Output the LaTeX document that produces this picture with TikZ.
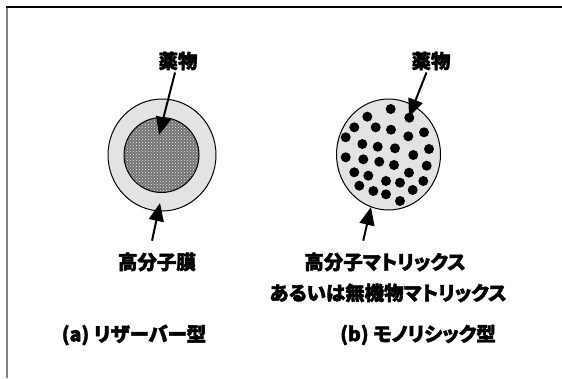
\documentclass[tikz,border=0pt]{standalone}
\usepackage{fontspec}
\setmainfont{Noto Sans CJK JP}[RawFeature=+palt,BoldFeatures={FakeBold=2}]
\usetikzlibrary{arrows.meta,patterns}

\begin{document}
\begin{tikzpicture}[x=1pt,y=-1pt,
    lbl/.style={font=\fontsize{19.5}{22}\selectfont\bfseries,inner sep=2pt},
    arr/.style={line width=2pt,-{Triangle[length=18pt,width=15pt]}},
    dot/.style={fill=black,draw=none}]
   \useasboundingbox (0,0) rectangle (562,378);
   % frame
   \draw[gray,line width=2pt] (7,6) -- (7,378);
   \draw[black,line width=1.5pt] (6,7) -- (562,7);

   % (a) reservoir
   \filldraw[fill=gray!22,draw=black,line width=1pt] (162,155) ellipse [x radius=54,y radius=56];
   \fill[black!55] (161.5,155) circle (37.5);
   \fill[pattern=crosshatch dots,pattern color=gray!15] (161.5,155) circle (37.5);
   \draw[line width=1pt] (161.5,155) circle (37.5);

   % (b) monolithic
   \filldraw[fill=gray!22,draw=black,line width=1pt] (388.5,154.5) ellipse [x radius=52,y radius=55.5];
   \foreach \x/\y in {390.7/109,409.3/117.7,367.3/116.7,354.3/127.3,375.7/127.3,
       391/129.7,408.3/136.3,424/132.3,345.7/137.3,362.3/144,377.7/146.7,
       395/148.3,429/149,413.3/155,345.7/157.3,363.3/159.3,379.3/161.7,
       394/165,426.7/165.7,409/172.7,354.3/172.3,368.3/175.7,386/181,
       400/182.7,423.3/181,359.3/185.7,373.3/191,412.7/190,386/194.3,400/201}
      \fill[dot] (\x,\y) circle (5);

   % labels
   \node[lbl] (drugA) at (178,61) {薬物};
   \node[lbl] (drugB) at (431,61) {薬物};
   \node[lbl] (memA) at (157,262) {高分子膜};
   \node[lbl] (matB) at (385,262) {高分子マトリックス};
   \node[lbl] (matB2) at (388,293) {あるいは無機物マトリックス};
   \node[lbl] (typeA) at (134,335) {(a) リザーバー型};
   \node[lbl] (typeB) at (418,335) {(b) モノリシック型};

   \coordinate (tipA) at (159,135);
   \coordinate (tipB) at (409,117);
   \coordinate (tipMemA) at (160,203);
   \coordinate (tipMatB) at (371,207);

   \draw[arr] (drugA) -- (tipA);
   \draw[arr] (drugB) -- (tipB);
   \draw[arr,shorten <=10pt] ([xshift=-7pt]memA.north) -- (tipMemA);
   \draw[arr,shorten <=10pt] ([xshift=-24pt]matB.north) -- (tipMatB);
\end{tikzpicture}
\end{document}
